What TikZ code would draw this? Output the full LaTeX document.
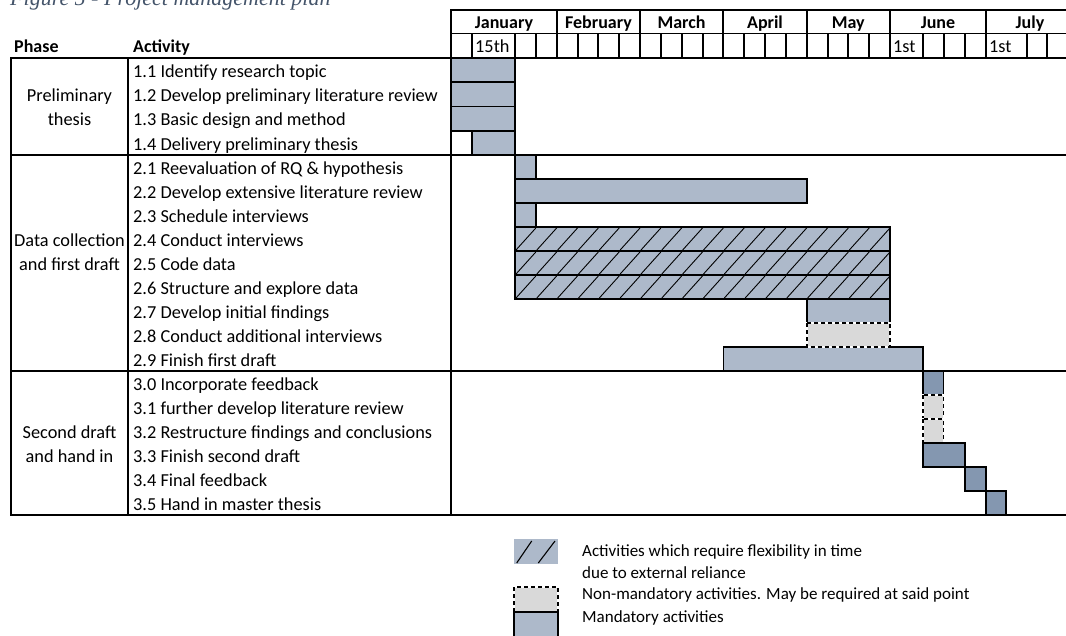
\documentclass[tikz,border=0pt]{standalone}
\usepackage{fontspec}
\setmainfont{Carlito}
\newfontfamily\captionfont{Liberation Serif}
\definecolor{mand}{HTML}{ADB9CA}
\definecolor{manddark}{HTML}{8497B0}
\definecolor{optional}{HTML}{D9D9D9}
\definecolor{captiontext}{HTML}{44546A}

% row boundaries of the plan (index 0 = under the header, 19 = bottom rule)
\pgfmathdeclarefunction{rowy}{1}{%
  \pgfmathparse{{58,82.25,106.5,130.75,155,179,203,227,251,275,299,323,347,371,395,419,443,467,491,515}[#1]}%
}
\pgfmathdeclarefunction{rowbase}{1}{%
  \pgfmathparse{(rowy(#1)+rowy(#1+1))/2+7.2}%
}

\tikzset{
  tablerule/.style={line width=2.4pt, line cap=rect},
  gridrule/.style={line width=1.7pt},
  barline/.style={draw=black, line width=1.6pt},
  mandbar/.style={barline, fill=mand},
  darkbar/.style={barline, fill=manddark},
  hatchline/.style={line width=0.9pt},
  cell/.style={font=\fontsize{18.3}{21}\selectfont, inner sep=0pt, anchor=base west},
  centercell/.style={cell, anchor=base},
  headcell/.style={cell, font=\fontsize{18}{21}\selectfont\bfseries},
  monthcell/.style={headcell, anchor=base},
  legendtext/.style={font=\fontsize{17}{20}\selectfont, inner sep=0pt, anchor=base west},
}

% a bar in one row: from x #1 to x #2 in row #3
\newcommand\ganttbar[4]{\path[#4] (#1,{rowy(#3)}) rectangle (#2,{rowy(#3+1)});}
% a non-mandatory bar: grey with a black/white dashed outline
\newcommand\optbar[3]{%
  \fill[optional] (#1,{rowy(#3)}) rectangle (#2,{rowy(#3+1)});
  \draw[white, line width=1.6pt] (#1,{rowy(#3)}) rectangle (#2,{rowy(#3+1)});
  \draw[black, line width=1.6pt, dash pattern=on 4pt off 3pt] (#1,{rowy(#3)}) rectangle (#2,{rowy(#3+1)});
}

\begin{document}
\begin{tikzpicture}[x=1pt,y=-1pt]
\useasboundingbox (0,0) rectangle (1066,635);

% caption (its upper part lies above the page)
\node[anchor=base west, inner sep=0pt, text=captiontext,
      font=\captionfont\itshape\fontsize{22}{25}\selectfont] (caption) at (10,5)
      {Figure 5 - Project management plan};

% ---- bars ----
\ganttbar{451}{515}{0}{mandbar}
\ganttbar{451}{515}{1}{mandbar}
\ganttbar{451}{515}{2}{mandbar}
\ganttbar{472}{515}{3}{mandbar}

\ganttbar{515}{536}{4}{mandbar}
\ganttbar{515}{806.7}{5}{mandbar}
\ganttbar{515}{536}{6}{mandbar}
\foreach \r in {7,8,9}{
  \ganttbar{515}{890}{\r}{fill=mand}
  \begin{scope}
    \clip (515,{rowy(\r)}) rectangle (890,{rowy(\r+1)});
    \foreach \k in {0,...,17}
      \draw[hatchline] ({515+\k*20.833+1},{rowy(\r+1)-1}) -- ({515+(\k+1)*20.833},{rowy(\r)+1});
  \end{scope}
  \ganttbar{515}{890}{\r}{barline}
}
\ganttbar{806.7}{890}{10}{mandbar}
\ganttbar{723.3}{922.7}{12}{mandbar}
\optbar{806.7}{890}{11}

\ganttbar{922.7}{943.5}{13}{darkbar}
\optbar{922.7}{943.5}{14}
\optbar{922.7}{943.5}{15}
\ganttbar{922.7}{965}{16}{darkbar}
\ganttbar{965}{985.7}{17}{darkbar}
\ganttbar{985.7}{1006}{18}{darkbar}

% ---- header grid ----
\draw[tablerule] (451,10) -- (1066,10);
\draw[gridrule] (451,33.5) -- (1066,33.5);
\foreach \x in {557,640,723.3,806.7,890,986}
  \draw[gridrule] (\x,10) -- (\x,58);
\foreach \x in {472,515,536,577.7,598.3,619.3,661,681.7,702.7,744,765,786,827.7,848.3,869.3,922.7,944,965,1026.7,1047.3}
  \draw[gridrule] (\x,33.5) -- (\x,58);

% ---- table rules ----
\foreach \r in {0,4,13,19}
  \draw[tablerule] (11,{rowy(\r)}) -- (1066,{rowy(\r)});
\draw[tablerule] (11,58) -- (11,515);
\draw[tablerule] (128,58) -- (128,515);
\draw[tablerule] (451,10) -- (451,515);

% ---- header text ----
\node[monthcell] (jan) at (504,28) {January};
\node[monthcell] (feb) at (598.5,28) {February};
\node[monthcell] (mar) at (681.5,28) {March};
\node[monthcell] (apr) at (765,28) {April};
\node[monthcell] (may) at (848.3,28) {May};
\node[monthcell] (jun) at (938,28) {June};
\node[monthcell] (jul) at (1030,28) {July};
\node[cell] (d15) at (475,52) {15th};
\node[cell] (jun1) at (893,52) {1st};
\node[cell] (jul1) at (989,52) {1st};
\node[headcell] (phasehead) at (14,52) {Phase};
\node[headcell] (acthead) at (133,52) {Activity};

% ---- phases ----
\node[centercell] (ph1a) at (69.5,{rowbase(1)}) {Preliminary};
\node[centercell] (ph1b) at (69.5,{rowbase(2)}) {thesis};
\node[centercell] (ph2a) at (69.5,{rowbase(7)}) {Data collection};
\node[centercell] (ph2b) at (69.5,{rowbase(8)}) {and first draft};
\node[centercell] (ph3a) at (69.5,{rowbase(15)}) {Second draft};
\node[centercell] (ph3b) at (69.5,{rowbase(16)}) {and hand in};

% ---- activities ----
\foreach \i/\t in {
  0/1.1 Identify research topic,
  1/1.2 Develop preliminary literature review,
  2/1.3 Basic design and method,
  3/1.4 Delivery preliminary thesis,
  4/2.1 Reevaluation of RQ \& hypothesis,
  5/2.2 Develop extensive literature review,
  6/2.3 Schedule interviews,
  7/2.4 Conduct interviews,
  8/2.5 Code data,
  9/2.6 Structure and explore data,
  10/2.7 Develop initial findings,
  11/2.8 Conduct additional interviews,
  12/2.9 Finish first draft,
  13/3.0 Incorporate feedback,
  14/3.1 further develop literature review,
  15/3.2 Restructure findings and conclusions,
  16/3.3 Finish second draft,
  17/3.4 Final feedback,
  18/3.5 Hand in master thesis}
  \node[cell] (act\i) at (133,{rowbase(\i)}) {\t};

% ---- legend ----
\fill[mand] (514,539) rectangle (558,564);
\draw[hatchline, line width=1.1pt] (516.7,563) -- (531.7,541);
\draw[hatchline, line width=1.1pt] (538.3,563) -- (555,541);
\fill[optional] (514,587) rectangle (558,612);
\draw[white, line width=1.6pt] (514,612) -- (514,587) -- (558,587) -- (558,612);
\draw[black, line width=1.6pt, dash pattern=on 4pt off 3pt] (514,612) -- (514,587) -- (558,587) -- (558,612);
\path[mandbar] (514,612) rectangle (558,640);
\node[legendtext] (leg1) at (582,556) {Activities which require flexibility in time};
\node[legendtext] (leg1b) at (582,578) {due to external reliance};
\node[legendtext] (leg2) at (582,599) {Non-mandatory activities. May be required at said point};
\node[legendtext] (leg3) at (582,622) {Mandatory activities};
\end{tikzpicture}
\end{document}
